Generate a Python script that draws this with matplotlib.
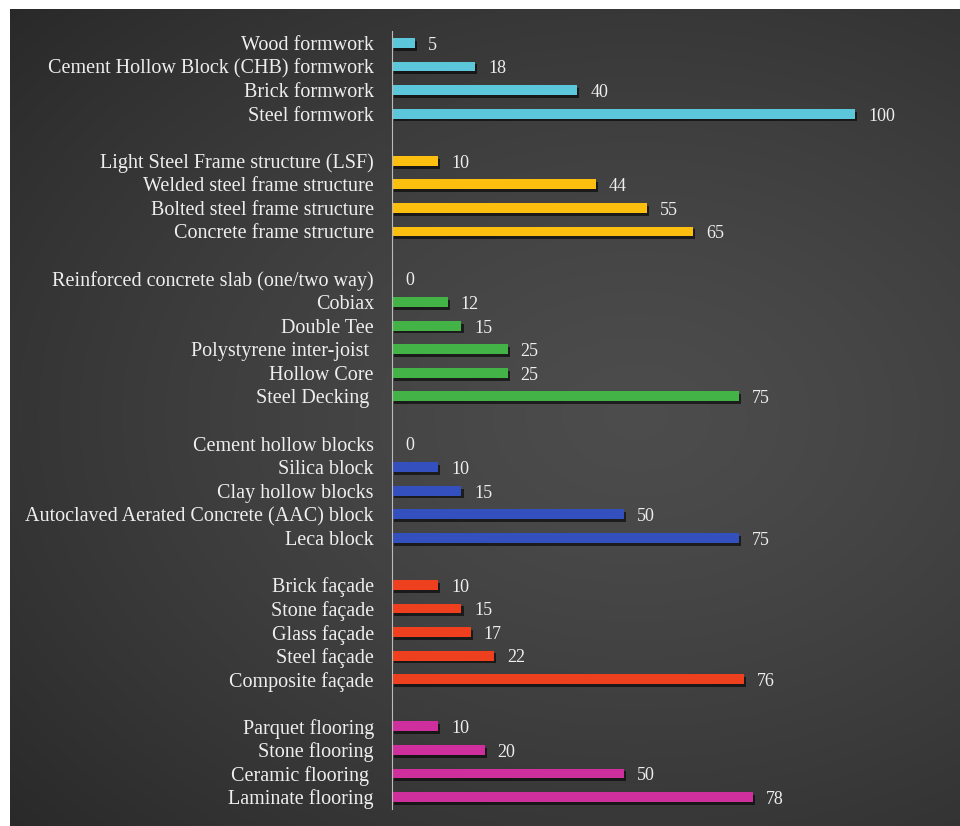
import numpy as np
import matplotlib.pyplot as plt
import matplotlib.patheffects as pe

# groups top to bottom
formwork = ["Wood formwork", "Cement Hollow Block (CHB) formwork", "Brick formwork", "Steel formwork"]
formwork_vals = [5, 18, 40, 100]

structure = ["Light Steel Frame structure (LSF)", "Welded steel frame structure",
             "Bolted steel frame structure", "Concrete frame structure"]
structure_vals = [10, 44, 55, 65]

slabs = ["Reinforced concrete slab (one/two way)", "Cobiax", "Double Tee",
         "Polystyrene inter-joist ", "Hollow Core", "Steel Decking "]
slabs_vals = [0, 12, 15, 25, 25, 75]

blocks = ["Cement hollow blocks", "Silica block", "Clay hollow blocks",
          "Autoclaved Aerated Concrete (AAC) block", "Leca block"]
blocks_vals = [0, 10, 15, 50, 75]

facades = ["Brick façade", "Stone façade", "Glass façade", "Steel façade", "Composite façade"]
facades_vals = [10, 15, 17, 22, 76]

floors = ["Parquet flooring", "Stone flooring", "Ceramic flooring ", "Laminate flooring"]
floors_vals = [10, 20, 50, 78]

groups = [(formwork, formwork_vals, "#5cc7da"),
          (structure, structure_vals, "#fdbf0f"),
          (slabs, slabs_vals, "#43b347"),
          (blocks, blocks_vals, "#3350be"),
          (facades, facades_vals, "#ee3f1f"),
          (floors, floors_vals, "#cf2f9c")]

fig = plt.figure(figsize=(9.6, 8.26), dpi=100)
fig.patch.set_facecolor("white")

# dark radial gradient panel
bg = fig.add_axes([10 / 960, 0, 950 / 960, 817 / 826])
yy, xx = np.mgrid[0:1:300j, 0:1:300j]
r = np.sqrt(((xx - 0.66) / 0.95) ** 2 + ((yy - 0.5) / 0.8) ** 2)
shade = 0.30 - 0.15 * np.clip(r, 0, 1) ** 1.3
bg.imshow(np.dstack([shade] * 3), aspect="auto", extent=[0, 1, 0, 1],
          interpolation="bicubic")
bg.set_axis_off()

ax = fig.add_axes([392 / 960, 1 - 808.8 / 826, 555.6 / 960, (808.8 - 31.2) / 826])
ax.patch.set_alpha(0)

labels, values, colors, pos = [], [], [], []
slot = 0
for names, vals, col in groups:
    for n, v in zip(names, vals):
        labels.append(n)
        values.append(v)
        colors.append(col)
        pos.append(slot)
        slot += 1
    slot += 1  # blank row between groups

shadow = [pe.SimplePatchShadow(offset=(1.5, -2), shadow_rgbFace="black", alpha=0.6), pe.Normal()]
bars = ax.barh(pos, values, height=0.42, color=colors, path_effects=shadow)
for p, v in zip(pos, values):
    ax.text(v + 2.8, p + 0.1, str(v), color="#eeeeee", fontsize=13,
            family="Liberation Serif", va="center", ha="left")

ax.set_yticks(pos)
ax.set_yticklabels(labels, fontsize=14.5, family="Liberation Serif", color="#eeeeee")
ax.tick_params(axis="y", length=0, pad=13)
ax.set_xticks([])
ax.set_xlim(0, 120)
ax.set_ylim(slot - 1.5, -0.5)
for s in ["top", "right", "bottom"]:
    ax.spines[s].set_visible(False)
ax.spines["left"].set_color("#bbbbbb")
ax.spines["left"].set_linewidth(0.8)

fig.savefig("out.png", dpi=100)
